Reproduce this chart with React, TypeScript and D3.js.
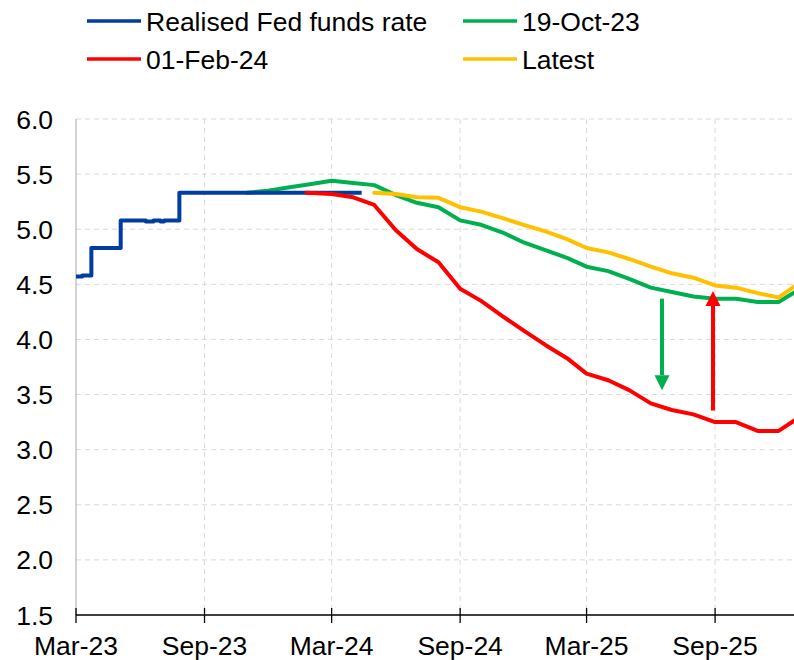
import React from "react";
import * as d3 from "d3";

const realisedDates = ["2023-03-01", "2023-03-10", "2023-03-23", "2023-05-04", "2023-06-09", "2023-06-20", "2023-06-30", "2023-07-05", "2023-07-27", "2024-04-13"];
const realisedValues = [4.57, 4.58, 4.83, 5.08, 5.07, 5.08, 5.07, 5.08, 5.33, 5.33];

const oct19Dates = ["2023-11-01", "2023-12-01", "2024-01-01", "2024-02-01", "2024-03-01", "2024-04-01", "2024-05-01", "2024-06-01", "2024-07-01", "2024-08-01", "2024-09-01", "2024-10-01", "2024-11-01", "2024-12-01", "2025-01-01", "2025-02-01", "2025-03-01", "2025-04-01", "2025-05-01", "2025-06-01", "2025-07-01", "2025-08-01", "2025-09-01", "2025-10-01", "2025-11-01", "2025-12-01", "2026-01-01"];
const oct19Values = [5.33, 5.35, 5.38, 5.41, 5.44, 5.42, 5.40, 5.31, 5.24, 5.20, 5.08, 5.04, 4.97, 4.88, 4.81, 4.74, 4.66, 4.62, 4.55, 4.47, 4.43, 4.39, 4.37, 4.37, 4.34, 4.34, 4.46];

const feb01Dates = ["2024-01-25", "2024-03-01", "2024-04-01", "2024-05-01", "2024-06-01", "2024-07-01", "2024-08-01", "2024-09-01", "2024-10-01", "2024-11-01", "2024-12-01", "2025-01-01", "2025-02-01", "2025-03-01", "2025-04-01", "2025-05-01", "2025-06-01", "2025-07-01", "2025-08-01", "2025-09-01", "2025-10-01", "2025-11-01", "2025-12-01", "2026-01-01"];
const feb01Values = [5.33, 5.32, 5.29, 5.22, 4.99, 4.82, 4.70, 4.46, 4.35, 4.21, 4.08, 3.95, 3.83, 3.69, 3.63, 3.54, 3.42, 3.36, 3.32, 3.25, 3.25, 3.17, 3.17, 3.30];

const latestDates = ["2024-05-01", "2024-06-01", "2024-07-01", "2024-08-01", "2024-09-01", "2024-10-01", "2024-11-01", "2024-12-01", "2025-01-01", "2025-02-01", "2025-03-01", "2025-04-01", "2025-05-01", "2025-06-01", "2025-07-01", "2025-08-01", "2025-09-01", "2025-10-01", "2025-11-01", "2025-12-01", "2026-01-01"];
const latestValues = [5.33, 5.32, 5.29, 5.285, 5.20, 5.16, 5.10, 5.04, 4.98, 4.91, 4.83, 4.79, 4.73, 4.66, 4.60, 4.56, 4.49, 4.47, 4.42, 4.38, 4.52];

const xTickDates = ["2023-03-01", "2023-09-01", "2024-03-01", "2024-09-01", "2025-03-01", "2025-09-01"];
const xTickLabels = ["Mar-23", "Sep-23", "Mar-24", "Sep-24", "Mar-25", "Sep-25"];
const yTicks = [1.5, 2.0, 2.5, 3.0, 3.5, 4.0, 4.5, 5.0, 5.5, 6.0];

const legendLabels = ["Realised Fed funds rate", "19-Oct-23", "01-Feb-24", "Latest"];
const colors = { blue: "#003DA0", green: "#00B050", red: "#FF0000", yellow: "#FFC000" };

// arrows: [date, from, to]
const greenArrow = { date: "2025-06-17", from: 4.37, to: 3.54 };
const redArrow = { date: "2025-08-29", from: 3.355, to: 4.44 };

const parse = (s: string) => {
  const [y, m, d] = s.split("-").map(Number);
  return new Date(y, m - 1, d);
};

export default function App() {
  const W = 794, H = 660;
  const left = 76, right = 794, top = 119, bottom = 615;
  const x = d3.scaleTime().domain([parse("2023-03-01"), parse("2025-12-23")]).range([left, right]);
  const y = d3.scaleLinear().domain([1.5, 6.0]).range([bottom, top]);

  const zip = (ds: string[], vs: number[]) => ds.map((d, i) => ({ d: parse(d), v: vs[i] }));
  const lineGen = d3.line<{ d: Date; v: number }>().x(p => x(p.d)).y(p => y(p.v));
  const stepGen = d3.line<{ d: Date; v: number }>().x(p => x(p.d)).y(p => y(p.v)).curve(d3.curveStepAfter);

  const font = "'Liberation Sans', Arial, sans-serif";
  const fs = 26.5;

  const arrow = (a: { date: string; from: number; to: number }, color: string) => {
    const ax = x(parse(a.date));
    const y0 = y(a.from), y1 = y(a.to);
    const dir = y1 > y0 ? 1 : -1;
    const headLen = 15, half = 7.5;
    const shaftEnd = y1 - dir * headLen;
    return (
      <g>
        <line x1={ax} x2={ax} y1={y0} y2={shaftEnd} stroke={color} strokeWidth={4} />
        <polygon points={`${ax - half},${shaftEnd} ${ax + half},${shaftEnd} ${ax},${y1}`} fill={color} />
      </g>
    );
  };

  const legendItems = [
    { label: legendLabels[0], color: colors.blue, lx: 87, ly: 21 },
    { label: legendLabels[1], color: colors.green, lx: 463, ly: 21 },
    { label: legendLabels[2], color: colors.red, lx: 87, ly: 59 },
    { label: legendLabels[3], color: colors.yellow, lx: 463, ly: 59 },
  ];

  return (
    <svg width={W} height={H} style={{ position: "absolute", left: 0, top: 0, background: "#fff" }} fontFamily={font}>
      <defs>
        <clipPath id="plot">
          <rect x={left} y={0} width={right - left} height={bottom + 2} />
        </clipPath>
      </defs>
      {/* horizontal grid */}
      {yTicks.filter(t => t > 1.5).map(t => (
        <line key={"h" + t} x1={left} x2={right} y1={y(t)} y2={y(t)} stroke="#D9D9D9" strokeWidth={1} strokeDasharray="5,4" />
      ))}
      {/* vertical grid */}
      {xTickDates.slice(1).map(t => (
        <line key={"v" + t} x1={x(parse(t))} x2={x(parse(t))} y1={top} y2={bottom} stroke="#D9D9D9" strokeWidth={1} strokeDasharray="5,4" />
      ))}
      {/* y axis */}
      <line x1={left} x2={left} y1={top} y2={bottom} stroke="#A6A6A6" strokeWidth={1} />
      {yTicks.map(t => (
        <text key={"yl" + t} x={53} y={y(t)} dy="0.36em" textAnchor="end" fontSize={fs} fill="#000">{t.toFixed(1)}</text>
      ))}
      {/* series */}
      <g clipPath="url(#plot)" fill="none" strokeWidth={4} strokeLinejoin="round" strokeLinecap="round">
        <path d={lineGen(zip(oct19Dates, oct19Values)) || ""} stroke={colors.green} />
        <path d={lineGen(zip(latestDates, latestValues)) || ""} stroke={colors.yellow} />
        <path d={stepGen(zip(realisedDates, realisedValues)) || ""} stroke={colors.blue} strokeLinecap="butt" />
        <path d={lineGen(zip(feb01Dates, feb01Values)) || ""} stroke={colors.red} />
      </g>
      {arrow(greenArrow, colors.green)}
      {arrow(redArrow, colors.red)}
      {/* x axis */}
      <line x1={left} x2={right} y1={bottom} y2={bottom} stroke="#000" strokeWidth={1.3} />
      {xTickDates.map((t, i) => (
        <g key={"xt" + t}>
          <line x1={x(parse(t))} x2={x(parse(t))} y1={bottom - 7} y2={bottom + 8} stroke="#000" strokeWidth={1.3} />
          <text x={x(parse(t))} y={655} textAnchor="middle" fontSize={fs} fill="#000">{xTickLabels[i]}</text>
        </g>
      ))}
      {/* legend */}
      {legendItems.map(it => (
        <g key={it.label}>
          <line x1={it.lx} x2={it.lx + 54} y1={it.ly} y2={it.ly} stroke={it.color} strokeWidth={3.5} />
          <text x={it.lx + 59} y={it.ly} dy="0.36em" fontSize={fs} fill="#000">{it.label}</text>
        </g>
      ))}
    </svg>
  );
}
